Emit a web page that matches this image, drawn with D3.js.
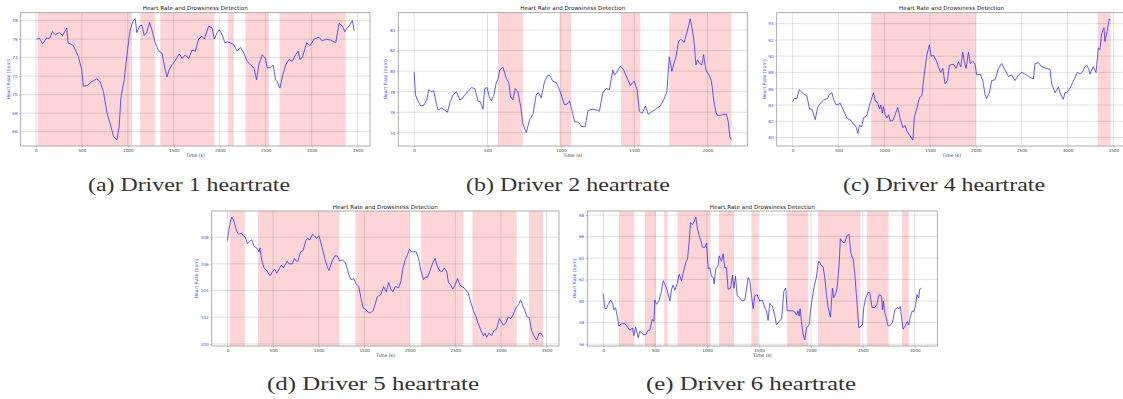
<!DOCTYPE html>
<html>
<head>
<meta charset="utf-8">
<script src="https://cdn.jsdelivr.net/npm/d3@7"></script>
<style>
  html, body { margin: 0; padding: 0; background: #fff; }
  svg { display: block; }
</style>
</head>
<body>
<svg id="fig" width="1123" height="399"></svg>
<script>
// ---- Driver 1 ----
const d1Time = [7,36,73,116,150,178,210,255,290,335,350,407,462,498,516,560,607,662,698,735,771,807,844,880,905,924,960,996,1025,1055,1080,1098,1127,1153,1178,1205,1236,1262,1298,1335,1371,1396,1425,1450,1480,1510,1560,1590,1625,1662,1698,1735,1771,1807,1833,1880,1916,1942,1971,1996,2025,2055,2080,2116,2153,2189,2225,2262,2298,2335,2371,2400,2425,2462,2498,2516,2553,2582,2607,2625,2655,2680,2716,2753,2789,2825,2855,2872,2898,2945,2982,3025,3080,3116,3153,3207,3262,3298,3335,3360,3382,3407,3444,3462];
const d1Rate = [76.0,76.1,75.5,76.1,76.1,76.8,76.5,76.7,76.4,77.2,75.6,75.3,74.1,72.7,70.9,71.0,71.4,71.7,71.4,70.3,68.1,66.9,65.5,65.1,66.5,69.6,71.6,74.8,77.0,77.9,78.2,76.7,77.4,77.5,76.4,76.7,77.8,77.0,75.6,74.7,74.5,73.2,71.9,72.7,73.2,73.6,74.4,73.9,74.3,73.9,74.8,74.7,76.0,76.3,76.0,77.4,77.2,76.0,76.7,77.0,76.5,75.6,75.7,75.6,75.4,74.7,75.1,74.5,73.6,73.2,72.9,71.6,73.2,74.3,73.9,72.9,72.9,73.2,71.6,71.4,70.7,71.9,73.2,73.8,73.6,74.3,74.7,73.8,74.0,75.6,75.3,76.0,76.2,75.8,76.0,75.9,75.6,77.7,77.4,76.8,77.2,77.4,78.0,76.9];
const d1Drowsy = [[18,1044],[1135,1295],[1353,1942],[2091,2153],[2280,2535],[2651,3371]];
const d1YTicks = [66,68,70,72,74,76,78];

// ---- Driver 2 ----
const d2Time = [0,9,22,45,68,85,100,118,133,147,163,186,208,227,243,265,288,311,327,345,367,390,413,435,451,469,481,497,512,526,544,560,571,583,605,628,644,658,673,689,707,726,741,764,787,810,832,848,866,889,912,923,946,968,991,1007,1025,1043,1059,1075,1093,1120,1143,1166,1184,1195,1218,1247,1263,1286,1308,1331,1354,1365,1381,1406,1429,1456,1474,1490,1501,1519,1535,1553,1565,1576,1596,1626,1655,1678,1701,1723,1739,1757,1768,1785,1803,1819,1841,1864,1882,1898,1909,1921,1932,1943,1961,1973,1989,2011,2027,2045,2057,2068,2091,2113,2129,2141,2152,2163];
const d2Rate = [79.9,77.7,77.2,76.6,76.7,77.2,78.2,78.0,78.1,77.1,76.2,76.4,76.2,76.0,76.9,77.7,78.0,77.2,77.3,77.7,78.0,78.4,78.3,77.1,77.0,76.3,78.3,78.4,77.5,77.1,77.7,78.9,79.2,80.1,80.4,79.3,78.9,77.5,77.2,78.3,78.0,76.6,74.9,74.0,75.3,75.8,77.7,77.9,77.4,79.0,79.6,79.6,79.0,78.9,78.2,77.5,76.7,76.8,77.1,76.2,75.1,75.0,74.6,74.6,76.1,76.2,76.3,76.2,76.1,77.9,78.3,78.2,80.1,79.6,79.9,80.5,80.1,79.2,78.6,78.9,79.0,78.2,76.1,75.9,76.2,76.6,75.8,76.1,76.4,76.6,77.2,78.0,81.4,80.0,80.6,81.4,82.9,83.1,82.8,84.0,85.1,83.9,82.7,80.6,81.1,80.8,80.6,81.6,80.1,79.6,79.0,76.9,76.0,75.7,75.7,75.8,75.8,75.1,73.6,73.3];
const d2Drowsy = [[571,741],[991,1070],[1410,1542],[1739,2163]];
const d2YTicks = [74,76,78,80,82,84];

// ---- Driver 4 ----
const d4Time = [0,18,47,73,102,156,185,210,247,273,302,338,382,403,429,447,476,520,549,592,636,665,690,712,730,752,774,810,847,883,901,927,949,963,978,992,1010,1029,1047,1065,1094,1119,1148,1174,1203,1228,1246,1275,1312,1330,1355,1384,1410,1435,1464,1493,1511,1537,1566,1591,1617,1639,1664,1690,1711,1755,1784,1810,1835,1857,1875,1893,1919,1937,1966,1991,2009,2046,2075,2100,2118,2148,2173,2209,2246,2282,2318,2355,2391,2427,2464,2500,2536,2591,2627,2645,2682,2718,2765,2809,2827,2863,2900,2925,2954,2972,3000,3034,3056,3081,3107,3136,3165,3190,3209,3227,3245,3281,3311,3336,3354,3372,3398,3408,3434,3456,3470];
const d4Rate = [84.4,84.8,84.8,85.9,85.5,85.1,83.5,83.5,82.2,83.7,84.2,84.6,84.8,85.3,85.5,84.7,84.0,84.2,83.5,82.4,82.1,81.6,81.4,80.5,81.5,81.3,82.4,82.7,84.3,85.5,84.5,84.3,83.5,84.0,83.0,83.8,82.8,82.4,82.8,82.0,82.1,82.8,83.7,82.3,81.2,81.5,80.8,80.3,79.7,82.6,83.5,84.9,85.1,87.6,90.1,91.4,90.0,90.1,89.5,88.7,88.0,88.5,86.6,87.0,88.9,89.0,88.5,89.3,88.7,90.5,89.3,88.5,90.5,89.1,89.4,89.0,87.7,87.8,87.0,85.3,84.8,85.5,87.0,87.1,88.5,89.1,88.3,87.5,87.7,87.0,87.7,88.0,87.8,87.4,87.2,89.1,89.2,88.7,88.5,88.4,86.6,85.5,86.2,85.3,84.7,85.5,85.6,86.2,86.8,87.3,88.0,87.8,88.1,88.7,88.9,88.5,87.8,88.7,88.0,91.0,90.8,92.8,93.5,91.8,93.2,94.6,94.4];
const d4Drowsy = [[858,1999],[3329,3470]];
const d4YTicks = [80,82,84,86,88,90,92,94];

// ---- Driver 5 ----
const d5Time = [0,18,44,66,91,110,128,150,175,195,219,245,266,292,320,346,357,375,401,430,467,492,518,540,566,591,613,638,656,674,711,736,755,773,802,830,857,875,904,930,955,977,1003,1021,1039,1068,1094,1112,1148,1178,1203,1232,1258,1294,1331,1356,1385,1411,1440,1466,1487,1513,1538,1568,1597,1622,1641,1659,1684,1713,1742,1768,1793,1815,1841,1877,1903,1925,1950,1976,1998,2016,2042,2071,2096,2122,2151,2169,2195,2224,2253,2279,2297,2326,2352,2377,2406,2424,2450,2472,2497,2523,2552,2570,2596,2618,2643,2669,2698,2727,2752,2781,2807,2825,2844,2869,2898,2924,2953,2982,3008,3026,3055,3081,3110,3135,3164,3190,3216,3238,3263,3288,3310,3336,3361,3390,3420,3438,3464];
const d5Rate = [107.75,108.7,109.5,109.3,108.7,108.3,108.2,108.3,108.1,108.0,107.5,107.7,107.8,107.3,107.2,106.9,107.2,106.3,105.7,105.5,105.1,105.4,105.6,105.3,105.6,105.9,105.7,106.0,106.2,106.0,106.0,106.4,106.2,106.2,106.9,107.0,107.7,107.9,107.8,108.2,108.1,107.9,108.1,107.7,107.2,106.4,105.8,105.5,106.2,106.6,106.6,106.2,106.3,106.1,105.2,104.8,104.9,104.5,104.3,103.4,102.7,102.6,102.4,102.3,102.5,103.0,103.5,103.6,103.7,104.3,103.9,104.6,104.1,103.9,104.3,104.2,104.7,105.7,106.3,106.7,107.1,106.9,106.9,106.9,106.4,105.5,104.8,105.0,105.0,105.5,106.1,106.4,105.9,105.5,105.4,105.7,105.4,104.6,104.4,104.1,104.4,104.9,104.4,104.3,104.2,104.0,103.8,103.1,102.5,102.0,101.5,101.0,100.6,100.8,100.5,100.8,100.6,101.0,101.1,101.9,101.6,101.4,101.6,102.0,101.9,102.2,102.7,102.9,103.3,102.9,102.5,102.0,102.0,101.0,100.6,100.3,100.8,100.8,100.5];
const d5Drowsy = [[26,190],[335,1229],[1404,1998],[2125,2588],[2687,3172],[3310,3464]];
const d5YTicks = [100,102,104,106,108];

// ---- Driver 6 ----
const d6Time = [0,16,32,48,71,90,103,119,135,151,176,209,234,257,282,295,311,337,353,385,411,433,449,472,488,497,513,536,561,577,593,616,642,658,674,690,712,731,754,770,796,812,828,841,860,876,892,908,924,940,956,979,995,1011,1027,1043,1059,1068,1084,1107,1116,1139,1155,1171,1187,1203,1226,1245,1258,1274,1290,1315,1341,1364,1396,1412,1428,1444,1460,1482,1508,1533,1556,1572,1588,1604,1630,1652,1668,1694,1719,1739,1758,1771,1797,1822,1845,1861,1877,1886,1896,1909,1925,1941,1957,1983,1996,2021,2037,2053,2069,2079,2101,2117,2133,2150,2166,2188,2207,2220,2239,2252,2271,2284,2303,2326,2348,2368,2384,2406,2422,2438,2461,2480,2496,2509,2528,2551,2567,2589,2615,2637,2656,2679,2689,2698,2711,2727,2743,2759,2785,2807,2829,2849,2861,2871,2887,2909,2929,2942,2958,2977,2990,3009,3022,3038,3048,3064];
const d6Rate = [60.7,59.3,59.3,59.7,60.1,59.8,59.2,59.4,58.6,57.7,57.9,57.9,57.6,57.3,57.5,56.8,57.6,56.6,57.2,56.9,56.9,57.3,57.3,58.3,58.1,60.1,59.7,60.0,60.9,61.9,61.6,61.0,60.0,61.1,61.5,61.0,61.6,62.5,61.9,62.6,63.6,63.9,65.6,67.3,67.1,67.4,67.8,66.7,66.1,65.6,65.0,65.0,65.4,63.0,63.1,62.3,62.2,61.6,63.0,63.3,64.2,63.7,64.4,63.1,63.1,61.1,61.2,62.4,61.2,62.3,60.5,60.3,60.0,60.1,62.2,61.9,60.5,59.3,60.5,60.6,60.0,60.1,59.4,59.1,58.2,59.8,59.5,58.7,57.8,58.1,58.4,60.9,61.2,59.1,59.1,59.1,59.0,58.7,59.1,58.6,59.3,58.1,56.9,56.4,57.5,57.8,59.1,60.8,61.6,62.2,63.5,63.7,63.3,63.2,62.2,60.6,59.4,58.5,61.2,60.3,60.7,61.2,63.3,65.8,65.5,65.4,66.1,66.2,64.5,63.9,62.6,60.6,57.5,57.7,57.8,59.4,60.3,60.8,60.8,59.4,59.4,59.7,60.6,60.5,59.2,60.0,58.9,58.4,57.7,57.7,58.0,59.1,59.4,59.3,59.5,58.6,57.4,57.7,58.1,57.8,58.6,59.1,59.0,59.7,60.6,60.3,61.1,61.2];
const d6Drowsy = [[151,298],[401,507],[587,619],[715,1033],[1116,1261],[1428,1492],[1771,1976],[2069,2477],[2541,2749],[2878,2942]];
const d6YTicks = [56,58,60,62,64,66,68];

const xTicks3500 = [0,500,1000,1500,2000,2500,3000,3500];
const xTicks2000 = [0,500,1000,1500,2000];
const xTicks3000 = [0,500,1000,1500,2000,2500,3000];

const captions = ["(a) Driver 1 heartrate","(b) Driver 2 heartrate","(c) Driver 4 heartrate","(d) Driver 5 heartrate","(e) Driver 6 heartrate"];

const panels = [
  {time:d1Time, rate:d1Rate, drowsy:d1Drowsy, yTicks:d1YTicks, xTicks:xTicks3500, box:[20.7,370,12.7,146], cap:[189,191,202]},
  {time:d2Time, rate:d2Rate, drowsy:d2Drowsy, yTicks:d2YTicks, xTicks:xTicks2000, box:[398.3,747.3,12.7,146], cap:[568,191,204]},
  {time:d4Time, rate:d4Rate, drowsy:d4Drowsy, yTicks:d4YTicks, xTicks:xTicks3500, box:[776.7,1126.5,12.7,146], cap:[944,191,202]},
  {time:d5Time, rate:d5Rate, drowsy:d5Drowsy, yTicks:d5YTicks, xTicks:xTicks3500, box:[211.7,559,211,346], cap:[373,390,212]},
  {time:d6Time, rate:d6Rate, drowsy:d6Drowsy, yTicks:d6YTicks, xTicks:xTicks3000, box:[587.3,937.3,211,346], cap:[751,390,210]}
];

const svg = d3.select("#fig");

// pad an extent by 5% on both sides, as matplotlib autoscaling does
function padded(vals) {
  const [lo, hi] = d3.extent(vals);
  const m = (hi - lo) * 0.05;
  return [lo - m, hi + m];
}

panels.forEach((p, i) => {
  const [L, R, T, B] = p.box;
  const x = d3.scaleLinear().domain(padded(p.time)).range([L, R]);
  const y = d3.scaleLinear().domain(padded(p.rate)).range([B, T]);
  const g = svg.append("g");
  const clipId = "clip" + i;
  g.append("clipPath").attr("id", clipId)
    .append("rect").attr("x", L).attr("y", T).attr("width", R - L).attr("height", B - T);

  const plot = g.append("g").attr("clip-path", `url(#${clipId})`);

  // drowsy intervals
  plot.selectAll("rect.drowsy").data(p.drowsy).join("rect")
    .attr("class", "drowsy")
    .attr("x", d => x(d[0])).attr("width", d => x(d[1]) - x(d[0]))
    .attr("y", T).attr("height", B - T)
    .attr("fill", "#fdd5d7");

  // grid
  plot.selectAll("line.vg").data(p.xTicks).join("line")
    .attr("x1", d => x(d)).attr("x2", d => x(d)).attr("y1", T).attr("y2", B)
    .attr("stroke", "#000").attr("stroke-opacity", 0.15).attr("stroke-width", 0.8);
  plot.selectAll("line.hg").data(p.yTicks).join("line")
    .attr("x1", L).attr("x2", R).attr("y1", d => y(d)).attr("y2", d => y(d))
    .attr("stroke", "#000").attr("stroke-opacity", 0.15).attr("stroke-width", 0.8);

  // heart rate trace
  const line = d3.line().x((d, k) => x(p.time[k])).y(d => y(d));
  plot.append("path").datum(p.rate)
    .attr("d", line)
    .attr("fill", "none")
    .attr("stroke", "#2b2bff")
    .attr("stroke-opacity", 0.85)
    .attr("stroke-width", 0.9)
    .attr("stroke-linejoin", "round");

  // axes
  const xAxis = d3.axisBottom(x).tickValues(p.xTicks).tickSize(1.5).tickPadding(1.5).tickFormat(d3.format("d"));
  const yAxis = d3.axisLeft(y).tickValues(p.yTicks).tickSize(1.5).tickPadding(1.5).tickFormat(d3.format("d"));
  const gx = g.append("g").attr("transform", `translate(0,${B})`).call(xAxis);
  const gy = g.append("g").attr("transform", `translate(${L},0)`).call(yAxis);
  [gx, gy].forEach(a => {
    a.select(".domain").remove();
    a.selectAll(".tick line").attr("stroke", "#777").attr("stroke-width", 0.5);
    a.selectAll("text").attr("font-family", "DejaVu Sans").attr("font-size", 4.2);
  });
  gx.selectAll("text").attr("fill", "#444");
  gy.selectAll("text").attr("fill", "#4a4aff");

  // frame
  g.append("rect").attr("x", L).attr("y", T).attr("width", R - L).attr("height", B - T)
    .attr("fill", "none").attr("stroke", "#999").attr("stroke-width", 0.8);

  // title and axis labels
  g.append("text").attr("x", (L + R) / 2).attr("y", T - 2.5)
    .attr("text-anchor", "middle").attr("font-family", "DejaVu Sans").attr("font-size", 5.6)
    .attr("fill", "#222").text("Heart Rate and Drowsiness Detection");
  g.append("text").attr("x", (L + R) / 2).attr("y", B + 11)
    .attr("text-anchor", "middle").attr("font-family", "DejaVu Sans").attr("font-size", 4.6)
    .attr("fill", "#333").text("Time (s)");
  const yl = L - (i === 3 ? 14 : 11);
  g.append("text")
    .attr("transform", `translate(${yl},${(T + B) / 2}) rotate(-90)`)
    .attr("text-anchor", "middle").attr("font-family", "DejaVu Sans").attr("font-size", 4.6)
    .attr("fill", "#4a4aff").text("Heart Rate (bpm)");

  // sub-figure caption
  svg.append("text").attr("x", p.cap[0]).attr("y", p.cap[1])
    .attr("text-anchor", "middle")
    .attr("font-family", "Liberation Serif").attr("font-size", 19)
    .attr("textLength", p.cap[2]).attr("lengthAdjust", "spacingAndGlyphs")
    .attr("fill", "#333").text(captions[i]);
});
</script>
</body>
</html>
